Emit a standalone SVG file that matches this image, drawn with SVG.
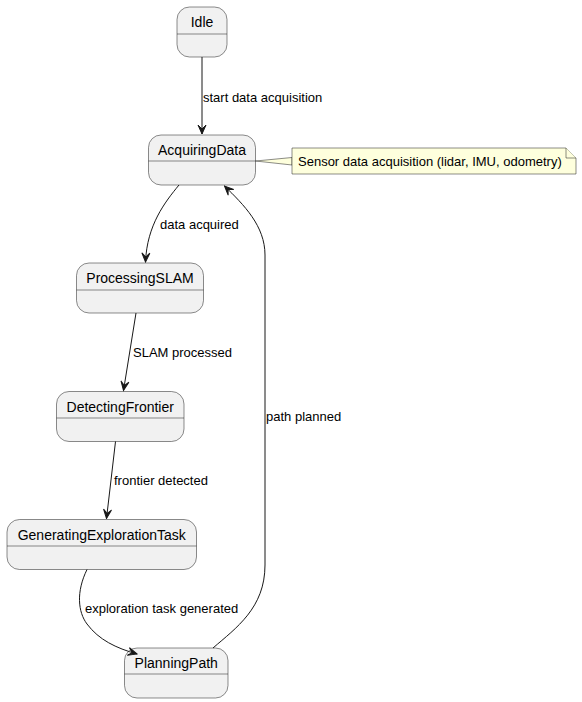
<svg xmlns="http://www.w3.org/2000/svg" width="582" height="702" viewBox="0 0 582 702">
<defs>
<style>
.st rect{fill:#F1F1F1;stroke:#181818;stroke-width:0.5}
.st line{stroke:#181818;stroke-width:0.5}
.st text{font-family:"Liberation Sans",Arial,sans-serif;font-size:14px;fill:#000;text-anchor:middle}
.edge path{fill:none;stroke:#181818;stroke-width:1}
.lbl{font-family:"Liberation Sans",Arial,sans-serif;font-size:13px;fill:#000}
.note path,.note polygon{fill:#FEFFDD;stroke:#181818;stroke-width:0.5}
</style>
<marker id="ah" viewBox="-10 -5 11 10" refX="0" refY="0" markerWidth="11" markerHeight="10" markerUnits="userSpaceOnUse" orient="auto">
<path d="M0,0 L-9,-4 L-5,0 L-9,4 Z" fill="#181818" stroke="#181818" stroke-width="1"/>
</marker>
</defs>
<rect width="582" height="702" fill="#FFFFFF"/>

<g id="Idle" class="st">
<rect x="177" y="7" width="50" height="50" rx="12.5" ry="12.5"/>
<line x1="177" y1="34" x2="227" y2="34"/>
<text x="202" y="27">Idle</text>
</g>
<g id="AcquiringData" class="st">
<rect x="148.5" y="135" width="107" height="50" rx="12.5" ry="12.5"/>
<line x1="148.5" y1="161" x2="255.5" y2="161"/>
<text x="202" y="155">AcquiringData</text>
</g>
<g id="ProcessingSLAM" class="st">
<rect x="76.5" y="263" width="127" height="50" rx="12.5" ry="12.5"/>
<line x1="76.5" y1="290" x2="203.5" y2="290"/>
<text x="140" y="283">ProcessingSLAM</text>
</g>
<g id="DetectingFrontier" class="st">
<rect x="56.5" y="391.5" width="127.5" height="50" rx="12.5" ry="12.5"/>
<line x1="56.5" y1="418" x2="184" y2="418"/>
<text x="120.25" y="411.5">DetectingFrontier</text>
</g>
<g id="GeneratingExplorationTask" class="st">
<rect x="7" y="519.5" width="189.5" height="50" rx="12.5" ry="12.5"/>
<line x1="7" y1="546" x2="196.5" y2="546"/>
<text x="101.75" y="539.5">GeneratingExplorationTask</text>
</g>
<g id="PlanningPath" class="st">
<rect x="124.5" y="648" width="103.5" height="50" rx="12.5" ry="12.5"/>
<line x1="124.5" y1="674" x2="228" y2="674"/>
<text x="176.25" y="668">PlanningPath</text>
</g>

<g id="note" class="note">
<polygon points="255.5,161 292,157.5 292,165"/>
<path d="M292,148 L566,148 L576,158 L576,174 L292,174 Z"/>
<path d="M566,148 L566,158 L576,158"/>
<text class="lbl" x="298" y="166">Sensor data acquisition (lidar, IMU, odometry)</text>
</g>

<g id="connectors" class="edge">
<path d="M202,57 L202,134" marker-end="url(#ah)"/>
<path d="M179,185 C165,202 147,225 145.5,262" marker-end="url(#ah)"/>
<path d="M136,313 L123.5,390.5" marker-end="url(#ah)"/>
<path d="M115.5,441.5 L106.5,518.5" marker-end="url(#ah)"/>
<path d="M87,569.5 C76,592 78,612 87,624 C99,640 116,648 137,654" marker-end="url(#ah)"/>
<path d="M213,648 C236,628 265,608 265,565 L265,255 C265,226 244,205 224.5,186" marker-end="url(#ah)"/>
</g>
<g id="labels">
<text class="lbl" x="203" y="102">start data acquisition</text>
<text class="lbl" x="160" y="229">data acquired</text>
<text class="lbl" x="133" y="357">SLAM processed</text>
<text class="lbl" x="266" y="421">path planned</text>
<text class="lbl" x="114" y="485">frontier detected</text>
<text class="lbl" x="85" y="613">exploration task generated</text>
</g>
</svg>
